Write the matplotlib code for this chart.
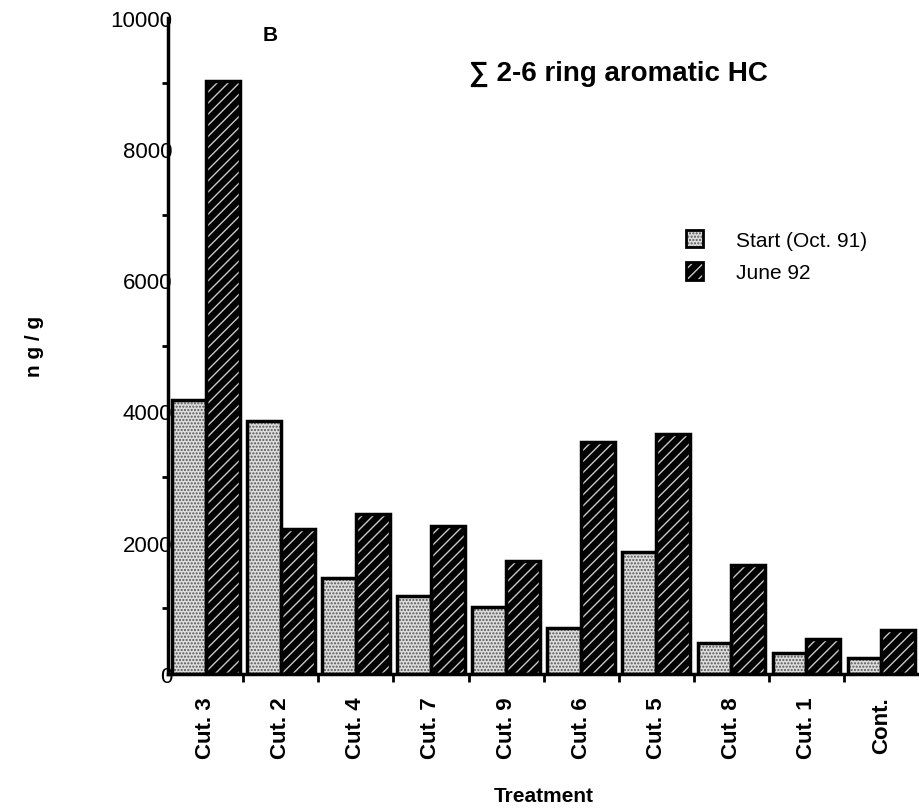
import matplotlib
matplotlib.use("Agg")
import matplotlib.pyplot as plt
import numpy as np
from matplotlib.patches import Patch

categories = ["Cut. 3", "Cut. 2", "Cut. 4", "Cut. 7", "Cut. 9", "Cut. 6", "Cut. 5", "Cut. 8", "Cut. 1", "Cont."]
start_oct91 = [4180, 3860, 1460, 1185, 1020, 705, 1855, 475, 315, 245]
june92 = [9030, 2200, 2440, 2245, 1720, 3540, 3660, 1665, 535, 665]
series_labels = ["Start (Oct. 91)", "June 92"]
yticks = [0, 2000, 4000, 6000, 8000, 10000]

plt.rcParams['font.family'] = ['Liberation Sans', 'DejaVu Sans']
plt.rcParams['hatch.linewidth'] = 1.0

fig = plt.figure(figsize=(9.19, 8.12), dpi=100)
ax = fig.add_axes([0.183, 0.169, 0.817, 0.808])

x = np.arange(len(categories))
w = 0.45

start_fill = dict(facecolor='#dcdcdc', edgecolor='#555555', hatch='.....', linewidth=0)
june_fill = dict(facecolor='black', edgecolor='#c8c8c8', hatch='///', linewidth=0)

ax.bar(x - w/2, start_oct91, w, zorder=2, **start_fill)
ax.bar(x - w/2, start_oct91, w, fill=False, edgecolor='black', linewidth=2.5, zorder=3)
ax.bar(x + w/2, june92, w, zorder=2, **june_fill)
ax.bar(x + w/2, june92, w, fill=False, edgecolor='black', linewidth=2.5, zorder=3)

ax.set_xlim(-0.5, len(categories) - 0.5)
ax.set_ylim(0, 10000)

for s in ['top', 'right']:
    ax.spines[s].set_visible(False)
ax.spines['left'].set_linewidth(2.5)
ax.spines['bottom'].set_linewidth(2.5)

ax.set_yticks(yticks)
ax.set_yticklabels([str(v) for v in yticks], fontsize=16)
ax.set_yticks(np.arange(1000, 10000, 2000), minor=True)
ax.tick_params(axis='y', which='major', length=0, pad=-3)
ax.tick_params(axis='y', which='minor', length=4, width=2, direction='out')

ax.set_xticks(x)
ax.set_xticklabels(categories, rotation=90, fontsize=16, fontweight='bold')
ax.set_xticks(np.arange(0.5, len(categories) - 0.5, 1), minor=True)
ax.tick_params(axis='x', which='major', length=0, pad=16)
ax.tick_params(axis='x', which='minor', length=6, width=2, direction='out')

ax.set_xlabel("Treatment", fontsize=15, fontweight='bold', labelpad=20)
ax.set_ylabel("n g / g", fontsize=15, fontweight='bold', labelpad=48)

ax.text(0.86, 9750, "B", fontsize=15, fontweight='bold', ha='center', va='center')
ax.text(5.5, 9150, "\u2211 2-6 ring aromatic HC", fontsize=20, fontweight='bold', ha='center', va='center')

handles = [(Patch(**start_fill), Patch(fill=False, edgecolor='black', linewidth=2)),
           (Patch(**june_fill), Patch(fill=False, edgecolor='black', linewidth=2))]
leg = ax.legend(handles, series_labels, loc='upper left', bbox_to_anchor=(0.665, 0.705),
                frameon=False, fontsize=15, handlelength=0.8, handleheight=0.9,
                handletextpad=1.6, labelspacing=0.6)

fig.savefig("out.png", dpi=100)
